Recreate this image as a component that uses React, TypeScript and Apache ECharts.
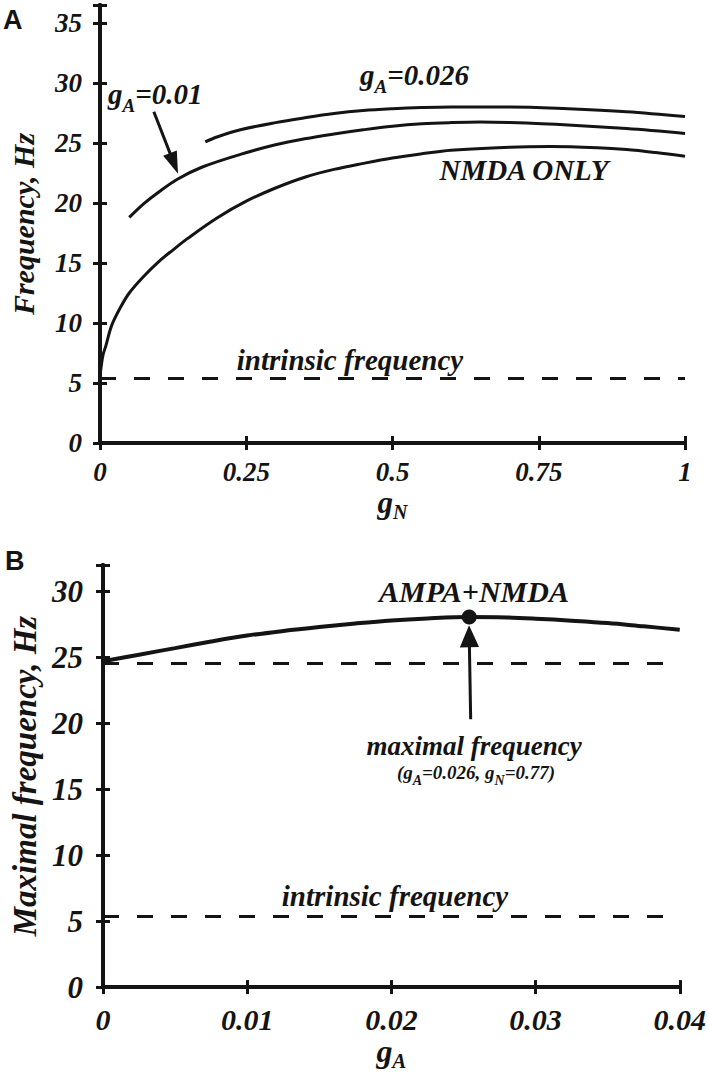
import React, { useEffect, useRef } from 'react';
import * as echarts from 'echarts';

// ---------- Panel A data ----------
const gN_nmdaOnly = [0, 0.005, 0.01, 0.02, 0.035, 0.05, 0.075, 0.1, 0.125, 0.15, 0.2, 0.25, 0.3, 0.35, 0.4, 0.45, 0.5, 0.55, 0.6, 0.7, 0.77, 0.85, 0.9, 0.95, 1.0];
const f_nmdaOnly = [5.6, 7.3, 8.1, 9.8, 11.3, 12.5, 13.9, 15.1, 16.1, 17.05, 18.75, 20.15, 21.25, 22.15, 22.8, 23.3, 23.75, 24.1, 24.4, 24.65, 24.7, 24.6, 24.45, 24.2, 23.9];

const gN_gA001 = [0.05, 0.075, 0.1, 0.133, 0.175, 0.24, 0.3, 0.35, 0.4, 0.45, 0.5, 0.55, 0.6, 0.65, 0.7, 0.8, 0.9, 1.0];
const f_gA001 = [18.8, 19.95, 20.9, 22.0, 23.0, 24.05, 24.85, 25.35, 25.75, 26.1, 26.4, 26.6, 26.7, 26.75, 26.7, 26.5, 26.2, 25.8];

const gN_gA0026 = [0.18, 0.2, 0.24, 0.3, 0.35, 0.4, 0.45, 0.5, 0.55, 0.6, 0.7, 0.8, 0.9, 1.0];
const f_gA0026 = [25.1, 25.5, 26.1, 26.7, 27.1, 27.45, 27.7, 27.85, 27.95, 28.0, 28.0, 27.85, 27.6, 27.2];

const intrinsicA = 5.4;
const xTicksA = [0, 0.25, 0.5, 0.75, 1];
const yTicksA = [0, 5, 10, 15, 20, 25, 30, 35];

// ---------- Panel B data ----------
const gA_max = [0, 0.0025, 0.005, 0.0075, 0.01, 0.0125, 0.015, 0.0175, 0.02, 0.0225, 0.0254, 0.028, 0.03, 0.0325, 0.035, 0.0375, 0.04];
const f_max = [24.7, 25.2, 25.7, 26.2, 26.65, 27.0, 27.3, 27.57, 27.8, 27.95, 28.05, 28.02, 27.93, 27.78, 27.6, 27.35, 27.1];
const peakB = [0.0254, 28.05];
const nmdaOnlyMaxB = 24.55;
const intrinsicB = 5.35;
const xTicksB = [0, 0.01, 0.02, 0.03, 0.04];
const yTicksB = [0, 5, 10, 15, 20, 25, 30];

// arrows (data coordinates: tail, head centre)
const arrowA = [[0.092, 27.6], [0.1265, 23.3]];
const arrowB = [[0.0255, 20.3], [0.0254, 26.6]];

const INK = '#141414';
const SERIF = 'Liberation Serif, Times New Roman, serif';

const zip = (xs: number[], ys: number[]) => xs.map((x, i) => [x, ys[i]]);

export default function App() {
  const ref = useRef<HTMLDivElement>(null);
  useEffect(() => {
    if (!ref.current) return;
    const chart = echarts.init(ref.current, undefined, { renderer: 'svg' });

    const labelStyle = (size: number) => ({
      fontFamily: SERIF, fontWeight: 'bold' as const, fontStyle: 'italic' as const, fontSize: size, color: INK,
    });
    const axisLineStyle = { show: true, lineStyle: { color: INK, width: 4 } };
    const tick = { show: true, inside: true, length: 7, lineStyle: { color: INK, width: 3 } };
    const fmt = (allowed: number[]) => (v: number) => {
      const hit = allowed.find((a) => Math.abs(a - v) < 1e-9);
      return hit === undefined ? '' : String(hit);
    };

    const xAxes: any[] = [
      {
        gridIndex: 0, type: 'value', position: 'bottom', min: 0, max: 1, interval: 0.25,
        axisLine: axisLineStyle, axisTick: tick, splitLine: { show: false },
        axisLabel: { ...labelStyle(27), margin: 15, formatter: fmt(xTicksA) },
        name: '{m|g}{s|N}', nameLocation: 'middle', nameGap: 44,
        nameTextStyle: {
          rich: {
            m: { ...labelStyle(31), verticalAlign: 'top' },
            s: { ...labelStyle(20), verticalAlign: 'top', padding: [15, 0, 0, 0] },
          },
        },
      },
      {
        gridIndex: 0, type: 'value', position: 'top', min: 0, max: 1, interval: 0.25,
        axisLine: axisLineStyle, axisTick: tick, splitLine: { show: false }, axisLabel: { show: false },
      },
      {
        gridIndex: 1, type: 'value', position: 'bottom', min: 0, max: 0.04, interval: 0.01,
        axisLine: axisLineStyle, axisTick: tick, splitLine: { show: false },
        axisLabel: { ...labelStyle(30), margin: 17, formatter: fmt(xTicksB) },
        name: '{m|g}{s|A}', nameLocation: 'middle', nameGap: 46,
        nameTextStyle: {
          rich: {
            m: { ...labelStyle(32), verticalAlign: 'top' },
            s: { ...labelStyle(21), verticalAlign: 'top', padding: [15, 0, 0, 0] },
          },
        },
      },
      {
        gridIndex: 1, type: 'value', position: 'top', min: 0, max: 0.04, interval: 0.01,
        axisLine: axisLineStyle, axisTick: tick, splitLine: { show: false }, axisLabel: { show: false },
      },
    ];

    const yAxes: any[] = [
      {
        gridIndex: 0, type: 'value', position: 'left', min: 0, max: 36.5, interval: 5,
        axisLine: axisLineStyle, axisTick: tick, splitLine: { show: false },
        axisLabel: { ...labelStyle(27), margin: 18, formatter: fmt(yTicksA) },
        name: 'Frequency, Hz', nameLocation: 'middle', nameGap: 62, nameRotate: 90,
        nameTextStyle: labelStyle(30),
      },
      {
        gridIndex: 0, type: 'value', position: 'right', min: 0, max: 36.5, interval: 5,
        axisLine: axisLineStyle, axisTick: tick, splitLine: { show: false }, axisLabel: { show: false },
      },
      {
        gridIndex: 1, type: 'value', position: 'left', min: 0, max: 32, interval: 5,
        axisLine: axisLineStyle, axisTick: tick, splitLine: { show: false },
        axisLabel: { ...labelStyle(31), margin: 20, formatter: fmt(yTicksB) },
        name: 'Maximal frequency, Hz', nameLocation: 'middle', nameGap: 62, nameRotate: 90,
        nameTextStyle: labelStyle(33),
      },
      {
        gridIndex: 1, type: 'value', position: 'right', min: 0, max: 32, interval: 5,
        axisLine: axisLineStyle, axisTick: tick, splitLine: { show: false }, axisLabel: { show: false },
      },
    ];

    const curve = (data: number[][], xi: number, yi: number, width = 3) => ({
      type: 'line', xAxisIndex: xi, yAxisIndex: yi, data, smooth: 0.35, showSymbol: false,
      lineStyle: { color: INK, width }, silent: true,
    });

    const dashed = (y: number, xi: number, yi: number) => ({
      type: 'line', xAxisIndex: xi, yAxisIndex: yi, data: [], silent: true,
      markLine: {
        silent: true, symbol: 'none', label: { show: false },
        lineStyle: { color: INK, width: 3, type: [16, 18] },
        data: [{ yAxis: y }],
      },
    });

    const arrow = (pts: number[][], xi: number, yi: number, head: string) => ({
      type: 'line', xAxisIndex: xi, yAxisIndex: yi, data: [], silent: true,
      markLine: {
        silent: true, symbol: ['none', head], symbolSize: 22, symbolKeepAspect: true,
        label: { show: false },
        lineStyle: { color: INK, width: 3, type: 'solid' },
        itemStyle: { color: INK },
        data: [[{ coord: pts[0] }, { coord: pts[1] }]],
      },
    });

    const txt = (text: string, x: number, y: number, size: number, align = 'left', rich?: any) => ({
      type: 'text', x, y, silent: true,
      style: {
        text, align, verticalAlign: 'middle', fill: INK,
        fontFamily: SERIF, fontWeight: 'bold', fontStyle: 'italic', fontSize: size,
        ...(rich ? { rich } : {}),
      },
    });

    const subRich = (size: number, subSize: number, pad: number) => ({
      m: { fontFamily: SERIF, fontWeight: 'bold', fontStyle: 'italic', fontSize: size, fill: INK, verticalAlign: 'top' },
      s: { fontFamily: SERIF, fontWeight: 'bold', fontStyle: 'italic', fontSize: subSize, fill: INK, verticalAlign: 'top', padding: [pad, 0, 0, 0] },
    });

    const option: any = {
      animation: false,
      grid: [
        { left: 99, top: 5, width: 586, height: 438 },
        { left: 99, top: 565, width: 584, height: 425 },
      ],
      xAxis: xAxes,
      yAxis: yAxes,
      series: [
        curve(zip(gN_nmdaOnly, f_nmdaOnly), 0, 0),
        curve(zip(gN_gA001, f_gA001), 0, 0),
        curve(zip(gN_gA0026, f_gA0026), 0, 0),
        dashed(intrinsicA, 0, 0),
        arrow(arrowA, 0, 0, 'path://M5,0L10,15L0,15Z'),
        curve(zip(gA_max, f_max), 2, 2, 4),
        dashed(nmdaOnlyMaxB, 2, 2),
        dashed(intrinsicB, 2, 2),
        arrow(arrowB, 2, 2, 'path://M7,0L14,16L0,16Z'),
        {
          type: 'scatter', xAxisIndex: 2, yAxisIndex: 2, data: [peakB], symbolSize: 15,
          itemStyle: { color: INK, opacity: 1 }, silent: true, z: 5,
        },
      ],
      graphic: [
        { type: 'text', x: 3, y: 6, silent: true, style: { text: 'A', fill: INK, fontFamily: 'Liberation Sans, Arial, sans-serif', fontWeight: 'bold', fontSize: 27 } },
        { type: 'text', x: 5, y: 547, silent: true, style: { text: 'B', fill: INK, fontFamily: 'Liberation Sans, Arial, sans-serif', fontWeight: 'bold', fontSize: 27 } },
        txt('{m|g}{s|A}{m|=0.01}', 108, 97, 29, 'left', subRich(29, 19, 17)),
        txt('{m|g}{s|A}{m|=0.026}', 360, 78, 29, 'left', subRich(29, 19, 17)),
        txt('NMDA ONLY', 524, 170, 29, 'center'),
        txt('intrinsic frequency', 350, 360, 29, 'center'),
        txt('AMPA+NMDA', 474, 591, 30, 'center'),
        txt('maximal frequency', 474, 746, 27, 'center'),
        txt('{t|(g}{u|A}{t|=0.026, g}{u|N}{t|=0.77)}', 476, 775, 19, 'center', {
          t: { fontFamily: SERIF, fontWeight: 'bold', fontStyle: 'italic', fontSize: 19, fill: INK, verticalAlign: 'top' },
          u: { fontFamily: SERIF, fontWeight: 'bold', fontStyle: 'italic', fontSize: 14, fill: INK, verticalAlign: 'top', padding: [10, 0, 0, 0] },
        }),
        txt('intrinsic frequency', 395, 896, 29, 'center'),
      ],
    };

    chart.setOption(option);
    return () => chart.dispose();
  }, []);

  return (
    <div
      ref={ref}
      style={{ position: 'fixed', left: 0, top: 0, width: 709, height: 1072, background: '#fff' }}
    />
  );
}
